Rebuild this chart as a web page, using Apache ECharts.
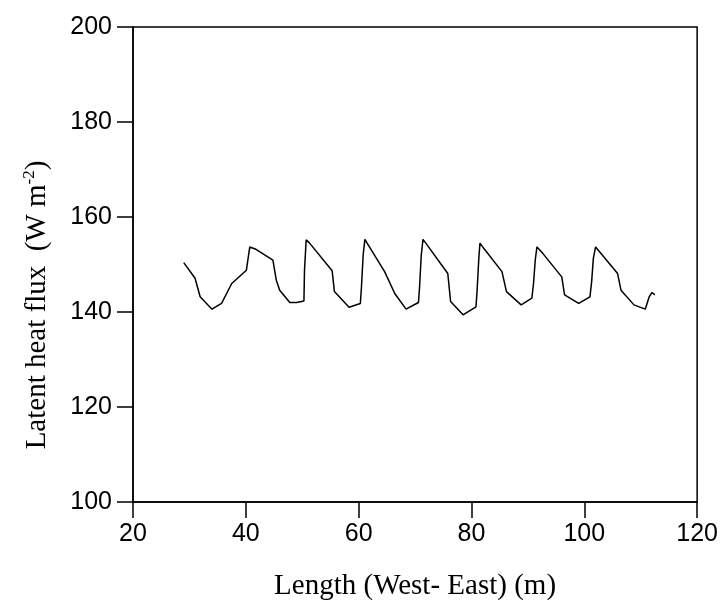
<!DOCTYPE html>
<html>
<head>
<meta charset="utf-8">
<script src="https://cdn.jsdelivr.net/npm/echarts@6/dist/echarts.min.js"></script>
<style>
html,body{margin:0;padding:0;background:#fff;}
#chart{width:721px;height:607px;}
</style>
</head>
<body>
<div id="chart"></div>
<script>
// Length (m), West-East
var lengthX = [29.0, 31.0, 31.9, 34.0, 35.7, 37.5, 40.1, 40.7, 41.8, 44.8, 45.4, 46.0, 47.8, 49.0, 50.3, 50.4, 50.7, 51.3, 55.3, 55.7, 58.3, 60.3, 60.5, 60.8, 61.1, 61.5, 64.6, 66.4, 68.4, 70.6, 70.8, 71.1, 71.4, 71.9, 75.8, 76.3, 78.5, 80.8, 81.0, 81.3, 81.5, 82.0, 85.4, 86.2, 88.8, 90.7, 91.0, 91.3, 91.6, 92.6, 96.0, 96.5, 99.0, 101.0, 101.3, 101.6, 102.0, 102.7, 105.9, 106.5, 108.8, 110.8, 111.5, 112.0, 112.5];
// Latent heat flux (W m-2)
var fluxY = [150.4, 147.1, 143.2, 140.6, 141.8, 146.0, 148.8, 153.7, 153.2, 150.9, 146.7, 144.6, 142.0, 142.0, 142.3, 148.8, 155.2, 154.5, 148.7, 144.3, 141.0, 141.8, 145.3, 152.0, 155.3, 154.5, 148.5, 143.9, 140.6, 142.0, 145.3, 152.0, 155.3, 154.5, 148.1, 142.2, 139.4, 141.1, 144.6, 151.3, 154.5, 153.7, 148.5, 144.3, 141.5, 142.9, 146.0, 150.9, 153.7, 152.4, 147.4, 143.6, 141.8, 143.2, 146.4, 151.3, 153.7, 152.7, 148.1, 144.6, 141.5, 140.6, 143.2, 144.1, 143.6];
var xTicks = [20, 40, 60, 80, 100, 120];
var yTicks = [100, 120, 140, 160, 180, 200];
var xTitle = 'Length (West- East) (m)';
var yTitleMain = 'Latent heat flux  (W m';
var yTitleSup = '-2';

var seriesData = lengthX.map(function (x, i) { return [x, fluxY[i]]; });

var chart = echarts.init(document.getElementById('chart'), null, {renderer: 'canvas'});
var tickFont = '"Liberation Sans", Arial, sans-serif';
var titleFont = '"Liberation Serif", "Times New Roman", serif';
chart.setOption({
  animation: false,
  backgroundColor: '#ffffff',
  grid: {left: 133, right: 23, top: 27, bottom: 105, show: true, borderColor: '#000', borderWidth: 1.5, backgroundColor: 'transparent'},
  xAxis: {
    type: 'value', min: xTicks[0], max: xTicks[xTicks.length - 1], interval: 20,
    name: xTitle, nameLocation: 'middle', nameGap: 70,
    nameTextStyle: {fontFamily: titleFont, fontSize: 29, color: '#000'},
    axisLine: {show: true, lineStyle: {color: '#000', width: 1.5}},
    axisTick: {show: true, inside: false, length: 16, lineStyle: {color: '#000', width: 1.5}},
    axisLabel: {fontFamily: tickFont, fontSize: 25, color: '#000', margin: 20},
    splitLine: {show: false}
  },
  yAxis: {
    type: 'value', min: yTicks[0], max: yTicks[yTicks.length - 1], interval: 20,
    axisLine: {show: true, lineStyle: {color: '#000', width: 1.5}},
    axisTick: {show: true, inside: false, length: 16, lineStyle: {color: '#000', width: 1.5}},
    axisLabel: {fontFamily: tickFont, fontSize: 25, color: '#000', margin: 21, padding: [0, 0, 14, 0]},
    splitLine: {show: false}
  },
  graphic: [{
    type: 'text', x: 37, y: 305, rotation: Math.PI / 2,
    style: {
      text: '{a|' + yTitleMain + '}{s|' + yTitleSup + '}{a|)}',
      x: 0, y: 0, align: 'center', verticalAlign: 'middle',
      rich: {
        a: {fontFamily: titleFont, fontSize: 29, fill: '#000'},
        s: {fontFamily: titleFont, fontSize: 17, fill: '#000', verticalAlign: 'top', padding: [0, 0, 14, 0]}
      }
    }
  }],
  series: [{
    type: 'line', data: seriesData, showSymbol: false, symbol: 'none',
    lineStyle: {color: '#000', width: 1.5}
  }]
});
</script>
</body>
</html>
